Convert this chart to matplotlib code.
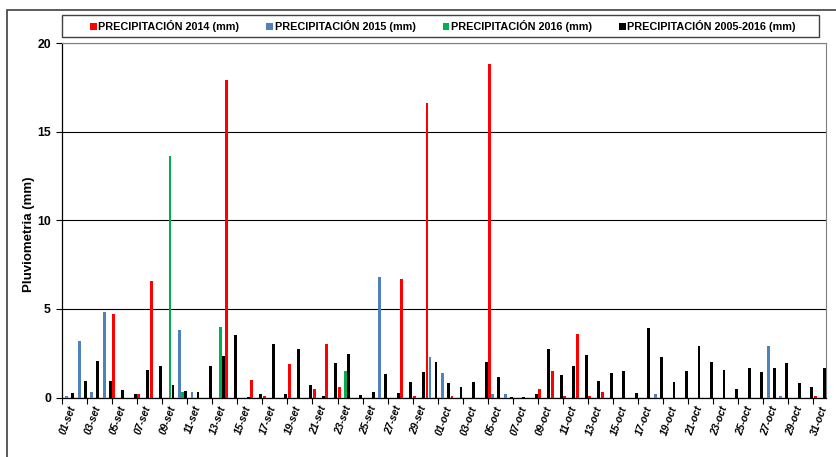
import matplotlib
matplotlib.use("Agg")
import matplotlib.pyplot as plt
import numpy as np
from matplotlib.patches import Rectangle, Patch

plt.rcParams['font.family'] = ['Liberation Sans', 'DejaVu Sans']

dates = [
    "01-set", "02-set", "03-set", "04-set", "05-set", "06-set", "07-set", "08-set", "09-set", "10-set",
    "11-set", "12-set", "13-set", "14-set", "15-set", "16-set", "17-set", "18-set", "19-set", "20-set",
    "21-set", "22-set", "23-set", "24-set", "25-set", "26-set", "27-set", "28-set", "29-set", "30-set",
    "01-oct", "02-oct", "03-oct", "04-oct", "05-oct", "06-oct", "07-oct", "08-oct", "09-oct", "10-oct",
    "11-oct", "12-oct", "13-oct", "14-oct", "15-oct", "16-oct", "17-oct", "18-oct", "19-oct", "20-oct",
    "21-oct", "22-oct", "23-oct", "24-oct", "25-oct", "26-oct", "27-oct", "28-oct", "29-oct", "30-oct",
    "31-oct",
]

prec_2014 = [
    0, 0, 0, 0, 4.7, 0, 0.17, 6.6, 0, 0,
    0, 0, 0, 17.9, 0, 1.0, 0.1, 0, 1.9, 0,
    0.5, 3.0, 0.6, 0, 0, 0, 0, 6.7, 0.08, 16.6,
    0, 0.1, 0, 0, 18.8, 0, 0, 0, 0.5, 1.5,
    0.1, 3.6, 0.1, 0.32, 0, 0, 0, 0, 0, 0,
    0, 0, 0, 0, 0, 0, 0, 0, 0, 0,
    0.08,
]

prec_2015 = [
    0.1, 3.2, 0.3, 4.8, 0, 0, 0, 0, 0, 3.8,
    0.3, 0, 0, 0, 0, 0, 0, 0, 0, 0,
    0, 0, 0, 0, 0, 6.8, 0, 0, 0, 2.3,
    1.38, 0, 0, 0, 0.17, 0.17, 0, 0, 0, 0,
    0, 0, 0, 0, 0, 0, 0, 0.17, 0, 0,
    0, 0, 0, 0, 0, 0, 2.9, 0.1, 0, 0,
    0,
]

prec_2016 = [
    0, 0, 0, 0, 0, 0, 0, 0, 13.6, 0.3,
    0, 0, 4.0, 0, 0, 0, 0, 0, 0, 0,
    0, 0, 1.5, 0, 0, 0, 0, 0, 0, 0,
    0, 0, 0, 0, 0, 0, 0, 0, 0, 0,
    0, 0, 0, 0, 0, 0, 0, 0, 0, 0,
    0, 0, 0, 0, 0, 0, 0, 0, 0, 0,
    0,
]

prec_2005_2016 = [
    0.25, 0.95, 2.05, 0.95, 0.45, 0.2, 1.55, 1.8, 0.7, 0.35,
    0.3, 1.8, 2.35, 3.5, 0.05, 0.17, 3.0, 0.2, 2.75, 0.7,
    0.1, 1.95, 2.45, 0.13, 0.3, 1.3, 0.26, 0.9, 1.42, 2.0,
    0.8, 0.6, 0.9, 2.0, 1.15, 0.04, 0.04, 0.2, 2.75, 1.28,
    1.78, 2.4, 0.95, 1.38, 1.47, 0.26, 3.9, 2.28, 0.9, 1.5,
    2.9, 2.0, 1.55, 0.47, 1.68, 1.43, 1.64, 1.96, 0.8, 0.57,
    1.64,
]

series_labels = ["PRECIPITACIÓN 2014 (mm)", "PRECIPITACIÓN 2015 (mm)",
                 "PRECIPITACIÓN 2016 (mm)", "PRECIPITACIÓN 2005-2016 (mm)"]
series_colors = ["#FF0000", "#4F81BD", "#00B050", "#000000"]
series_values = [prec_2014, prec_2015, prec_2016, prec_2005_2016]

W, H = 837, 457
fig = plt.figure(figsize=(W / 100, H / 100), dpi=100)
fig.patch.set_facecolor("white")

# plot area in pixels
pl, pr, pt, pb = 62, 826, 43, 397.5
ax = fig.add_axes([pl / W, 1 - pb / H, (pr - pl) / W, (pb - pt) / H])

x = np.arange(len(dates))
offsets = [-0.36, -0.12, 0.12, 0.36]
bw = 0.23
for vals, col, off, lab in zip(series_values, series_colors, offsets, series_labels):
    ax.bar(x + off, vals, width=bw, color=col, label=lab, zorder=3, linewidth=0)

ax.set_xlim(-0.5, len(dates) - 0.5)
ax.set_ylim(0, 20)
ax.set_yticks([0, 5, 10, 15, 20])
ax.set_yticklabels(["0", "5", "10", "15", "20"], fontsize=8.8, fontweight="bold")
ax.yaxis.grid(True, color="black", linewidth=0.8, zorder=1)
ax.set_axisbelow(True)

ax.set_xticks(x[::2])
ax.set_xticklabels(dates[::2], rotation=70, ha="right", va="top", rotation_mode="anchor",
                   fontsize=7.4, fontweight="bold", fontstyle="italic")
ax.set_xticks(x[::2] - 0.5, minor=True)
ax.tick_params(axis="x", which="major", length=0, pad=5)
ax.tick_params(axis="x", which="minor", length=4, width=0.8, color="black", direction="out")
ax.tick_params(axis="y", which="major", length=4, width=0.8, color="black", direction="out", pad=4)

for s in ["top", "right"]:
    ax.spines[s].set_color("#808080")
    ax.spines[s].set_linewidth(0.8)
for s in ["left", "bottom"]:
    ax.spines[s].set_color("black")
    ax.spines[s].set_linewidth(0.9)

ax.set_ylabel("Pluviometria (mm)", fontsize=9.5, fontweight="bold")
ax.yaxis.set_label_coords(-0.035, 0.46)

# legend box
lx0, lx1, ly0, ly1 = 62, 819, 15, 37
fig.add_artist(Rectangle((lx0 / W, 1 - ly1 / H), (lx1 - lx0) / W, (ly1 - ly0) / H,
                         transform=fig.transFigure, fill=False, edgecolor="#404040",
                         linewidth=1.0))
handles = [Patch(facecolor=c, edgecolor="none") for c in series_colors]
fig.legend(handles, series_labels, ncol=4, loc="center",
           bbox_to_anchor=((lx0 + lx1) / 2 / W + 2.5 / W, 1 - (ly0 + ly1) / 2 / H),
           frameon=False, prop={"size": 7.8, "weight": "bold"},
           handlelength=0.62, handleheight=0.62, handletextpad=0.15,
           columnspacing=2.5, borderpad=0.2)

# outer chart border
fig.add_artist(Rectangle((7 / W, -0.1), 1.2, 1.1 - 10 / H,
                         transform=fig.transFigure, fill=False, edgecolor="#404040",
                         linewidth=1.2, clip_on=False))

fig.savefig("out.png", dpi=100, facecolor="white")
